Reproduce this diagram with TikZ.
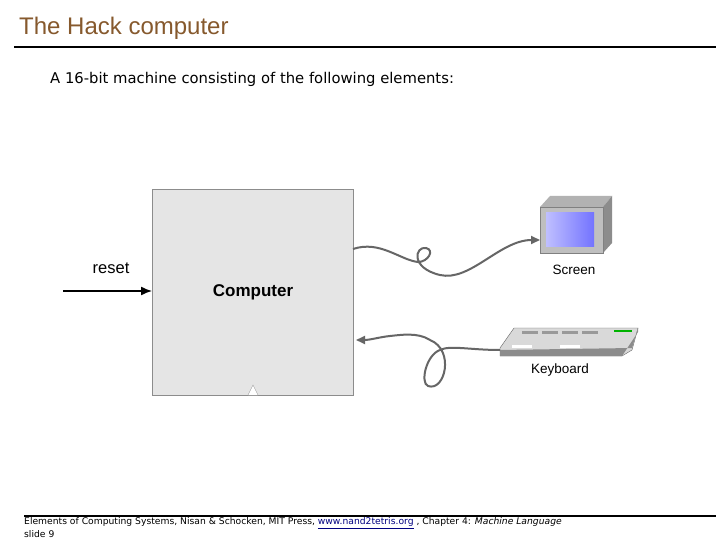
\documentclass[tikz,border=0pt]{standalone}
\usetikzlibrary{arrows.meta}
\usepackage{fontspec}
\setmainfont{Liberation Sans}
\newfontfamily\comic{DejaVu Sans}
\begin{document}
\begin{tikzpicture}[x=1pt,y=-1pt,
  cable/.style={draw=black!60,line width=2pt},
  lbl/.style={font=\fontsize{13.5}{15}\selectfont,inner sep=0}]
\useasboundingbox[fill=white] (0,0) rectangle (720,540);
\node[anchor=west,inner sep=0,text=brown!70!black,font=\fontsize{24}{26}\selectfont] (title) at (19,28) {The Hack computer};
\draw[line width=2.5pt] (14,47) -- (716,47);
\node[anchor=west,inner sep=0,font=\comic\fontsize{14.8}{16}\selectfont] (sub) at (50,79) {A 16-bit machine consisting of the following elements:};
% computer
\draw[fill=black!10,draw=black!45] (152,189) rectangle (353,395);
\node[font=\bfseries\fontsize{17}{19}\selectfont] (comp) at (253,292) {Computer};
\coordinate (cin) at (152,291);
\coordinate (cL) at (63,291);
\draw[line width=1.4pt,-{Latex[length=11pt,width=9pt]}] (cL) -- (cin);
\node[font=\fontsize{16.5}{18}\selectfont] (reset) at (111,268) {reset};
\draw[fill=white,draw=black!40] (248,395) -- (253,385) -- (258,395);
% screen
\fill[black!30] (540,207) -- (550,196) -- (612,196) -- (603,207) -- cycle;
\fill[black!45] (603,207) -- (612,196) -- (612,243) -- (603,253) -- cycle;
\draw[fill=black!25,draw=black!50] (540,207) rectangle (603,253);
\shade[left color=blue!25,right color=blue!55] (546,213) rectangle (594,246);
\node[lbl] (scr) at (574,270) {Screen};
% keyboard
\draw[fill=black!15,draw=black!60] (500,348) -- (514,328) -- (638,328) -- (632,350) -- (622,356) -- (500,356) -- cycle;
\fill[black!45] (500,350) -- (500,356) -- (622,356) -- (638,332) -- (638,328) -- (632,348) -- cycle;
\foreach \i in {0,1,2,3} \fill[black!40] (522+20*\i,331) rectangle (538+20*\i,334);
\fill[green!70!black] (614,330) rectangle (632,332);
\fill[white] (512,345) rectangle (532,348);
\fill[white] (560,345) rectangle (580,348);
\node[lbl] (kb) at (560,370) {Keyboard};
% cables
\draw[cable,-{Triangle[length=9pt,width=8pt]}] (353,249) .. controls (380,240) and (400,260) .. (418,262)
  .. controls (428,262) and (435,250) .. (426,248) .. controls (415,246) and (410,268) .. (440,275)
  .. controls (470,282) and (500,240) .. (540,240);
\draw[cable,-{Triangle[length=9pt,width=8pt]}] (500,350) .. controls (470,350) and (450,345) .. (440,350)
  .. controls (426,355) and (420,383) .. (428,386) .. controls (445,392) and (455,350) .. (430,340)
  .. controls (418,332) and (400,335) .. (390,336) .. controls (380,337) and (370,340) .. (356,340);
% footer
\draw[line width=1.5pt] (24,516) -- (716,516);
\node[anchor=west,inner sep=0,font=\comic\fontsize{9.2}{10}\selectfont] (foot) at (24,523) {Elements of Computing Systems, Nisan \& Schocken, MIT Press, \textcolor{blue!50!black}{\underline{www.nand2tetris.org}} , Chapter 4: \textit{Machine Language}};
\node[anchor=west,inner sep=0,font=\comic\fontsize{9.2}{10}\selectfont] (slide) at (24,534) {slide 9};
\end{tikzpicture}
\end{document}
